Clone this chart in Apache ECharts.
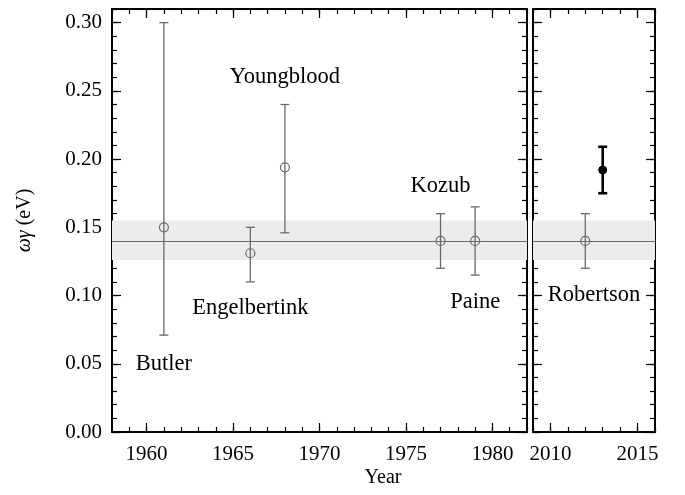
<!DOCTYPE html>
<html><head><meta charset="utf-8">
<script src="https://cdn.jsdelivr.net/npm/echarts@6/dist/echarts.min.js"></script>
<style>html,body{margin:0;padding:0;background:#fff}#c{width:685px;height:495px}</style>
</head><body><div id="c"></div>
<script>
// ---- data ----
const expNames = ['Butler', 'Engelbertink', 'Youngblood', 'Kozub', 'Paine', 'Robertson'];
const expYears = [1961, 1966, 1968, 1977, 1979, 2012];
const expValues = [0.150, 0.131, 0.194, 0.140, 0.140, 0.140];
const expLow = [0.071, 0.110, 0.146, 0.120, 0.115, 0.120];
const expHigh = [0.300, 0.150, 0.240, 0.160, 0.165, 0.160];
const labelX = [1961, 1966, 1968, 1977, 1979, 2012.5];
const labelY = [0.050, 0.091, 0.260, 0.180, 0.095, 0.100];
const thisYears = [2013];
const thisValues = [0.192];
const thisLow = [0.175];
const thisHigh = [0.209];
const meanValue = 0.140;
const bandLow = 0.126;
const bandHigh = 0.155;
const xLeftTicks = [1960, 1965, 1970, 1975, 1980];
const xRightTicks = [2010, 2015];
const yTicks = [0.00, 0.05, 0.10, 0.15, 0.20, 0.25, 0.30];
const xLeftRange = [1958, 1982];
const xRightRange = [2009, 2016];
const yRange = [0, 0.31];

// minor ticks
const xLeftMinor = []; for (let v = xLeftRange[0]; v <= xLeftRange[1]; v++) xLeftMinor.push(v);
const xRightMinor = []; for (let v = xRightRange[0]; v <= xRightRange[1]; v++) xRightMinor.push(v);
const yMinor = []; for (let i = 0; i <= 31; i++) yMinor.push(+(i * 0.01).toFixed(2));

const FONT = 'Liberation Serif';
const GREY = '#6a6a6a';

const xAxes = [], yAxes = [];
function mkX(grid, pos, range, ticks, major, labels) {
  xAxes.push({
    type: 'value', gridIndex: grid, position: pos, min: range[0], max: range[1],
    splitLine: {show: false},
    axisLine: {show: major, onZero: false, lineStyle: {color: '#000', width: 2}},
    axisTick: {show: true, inside: true, length: major ? 9 : 5, customValues: ticks, lineStyle: {color: '#000', width: 1.2}},
    axisLabel: labels ? {show: true, customValues: ticks, margin: 12, color: '#000', fontFamily: FONT, fontSize: 21, formatter: v => String(v)} : {show: false}
  });
}
function mkY(grid, pos, ticks, major, labels) {
  const ax = {
    type: 'value', gridIndex: grid, position: pos, min: yRange[0], max: yRange[1],
    splitLine: {show: false},
    axisLine: {show: major, onZero: false, lineStyle: {color: '#000', width: 2}},
    axisTick: {show: true, inside: true, length: major ? 9 : 5, customValues: ticks, lineStyle: {color: '#000', width: 1.2}},
    axisLabel: labels ? {show: true, customValues: ticks, margin: 10, color: '#000', fontFamily: FONT, fontSize: 21, formatter: v => v.toFixed(2)} : {show: false}
  };
  if (labels) {
    ax.name = '{i|ωγ} (eV)';
    ax.nameLocation = 'middle';
    ax.nameGap = 77;
    ax.nameRotate = 90;
    ax.nameTextStyle = {color: '#000', fontFamily: FONT, fontSize: 20, rich: {i: {fontStyle: 'italic', fontFamily: FONT, fontSize: 20, color: '#000'}}};
  }
  yAxes.push(ax);
}
// grid 0 x axes: 0 bottom major, 1 bottom minor, 2 top major, 3 top minor
mkX(0, 'bottom', xLeftRange, xLeftTicks, true, true);
mkX(0, 'bottom', xLeftRange, xLeftMinor, false, false);
mkX(0, 'top', xLeftRange, xLeftTicks, true, false);
mkX(0, 'top', xLeftRange, xLeftMinor, false, false);
// grid 1 x axes: 4..7
mkX(1, 'bottom', xRightRange, xRightTicks, true, true);
mkX(1, 'bottom', xRightRange, xRightMinor, false, false);
mkX(1, 'top', xRightRange, xRightTicks, true, false);
mkX(1, 'top', xRightRange, xRightMinor, false, false);
// y axes grid 0: 0..3 ; grid 1: 4..7
mkY(0, 'left', yTicks, true, true);
mkY(0, 'left', yMinor, false, false);
mkY(0, 'right', yTicks, true, false);
mkY(0, 'right', yMinor, false, false);
mkY(1, 'left', yTicks, true, false);
mkY(1, 'left', yMinor, false, false);
mkY(1, 'right', yTicks, true, false);
mkY(1, 'right', yMinor, false, false);

const expData = [[], []];
expYears.forEach((x, i) => {
  const g = x >= 2000 ? 1 : 0;
  expData[g].push([x, expValues[i], expLow[i], expHigh[i]]);
});
const thisData = thisYears.map((x, i) => [x, thisValues[i], thisLow[i], thisHigh[i]]);
const labelData = [[], []];
expNames.forEach((n, i) => {
  const g = labelX[i] >= 2000 ? 1 : 0;
  labelData[g].push([labelX[i], labelY[i], n]);
});

function errRender(style) {
  return function (params, api) {
    const c = api.coord([api.value(0), api.value(1)]);
    const lo = api.coord([api.value(0), api.value(2)]);
    const hi = api.coord([api.value(0), api.value(3)]);
    const w = style.cap;
    const ls = {stroke: style.color, lineWidth: style.lw, fill: null};
    const children = [
      {type: 'line', shape: {x1: c[0], y1: lo[1], x2: c[0], y2: hi[1]}, style: ls},
      {type: 'line', shape: {x1: c[0] - w, y1: lo[1], x2: c[0] + w, y2: lo[1]}, style: ls},
      {type: 'line', shape: {x1: c[0] - w, y1: hi[1], x2: c[0] + w, y2: hi[1]}, style: ls},
      {type: 'circle', shape: {cx: c[0], cy: c[1], r: style.r},
        style: {stroke: style.color, lineWidth: style.clw, fill: style.filled ? style.color : null}}
    ];
    return {type: 'group', children};
  };
}
function makeLabelRender(g) {
  return function (params, api) {
    const c = api.coord([api.value(0), api.value(1)]);
    return {type: 'text', x: c[0], y: c[1],
      style: {text: labelData[g][params.dataIndex][2], fill: '#000',
        font: '22.5px "' + FONT + '"', align: 'center', verticalAlign: 'middle'}};
  };
}

const series = [];
[0, 1].forEach(g => {
  series.push({
    type: 'line', xAxisIndex: g * 4, yAxisIndex: g * 4, data: [], z: 1, silent: true,
    markArea: {silent: true, itemStyle: {color: '#ececec'}, data: [[{yAxis: bandLow}, {yAxis: bandHigh}]]},
    markLine: {silent: true, symbol: 'none', label: {show: false},
      lineStyle: {color: GREY, width: 1.2, type: 'solid'}, data: [{yAxis: meanValue}]}
  });
});
[0, 1].forEach(g => {
  series.push({
    type: 'custom', xAxisIndex: g * 4, yAxisIndex: g * 4, z: 3, silent: true,
    renderItem: errRender({color: GREY, lw: 1.3, cap: 4.5, r: 4.5, clw: 1.2, filled: false}),
    encode: {x: 0, y: [1, 2, 3]}, data: expData[g]
  });
});
series.push({
  type: 'custom', xAxisIndex: 4, yAxisIndex: 4, z: 4, silent: true,
  renderItem: errRender({color: '#000', lw: 2.6, cap: 4.5, r: 4, clw: 1, filled: true}),
  encode: {x: 0, y: [1, 2, 3]}, data: thisData
});
[0, 1].forEach(g => {
  series.push({type: 'custom', xAxisIndex: g * 4, yAxisIndex: g * 4, z: 5, silent: true,
    renderItem: makeLabelRender(g), encode: {x: 0, y: 1}, data: labelData[g]});
});

const chart = echarts.init(document.getElementById('c'), null, {renderer: 'canvas'});
chart.setOption({
  animation: false,
  backgroundColor: '#fff',
  textStyle: {fontFamily: FONT},
  grid: [
    {left: 112, right: 158, top: 9, bottom: 63, containLabel: false},
    {left: 533, right: 30, top: 9, bottom: 63, containLabel: false}
  ],
  xAxis: xAxes,
  yAxis: yAxes,
  graphic: [{type: 'text', x: 383, y: 478, style: {text: 'Year', font: '20px "' + FONT + '"', fill: '#000', align: 'center', verticalAlign: 'middle'}}],
  series
});
</script></body></html>
